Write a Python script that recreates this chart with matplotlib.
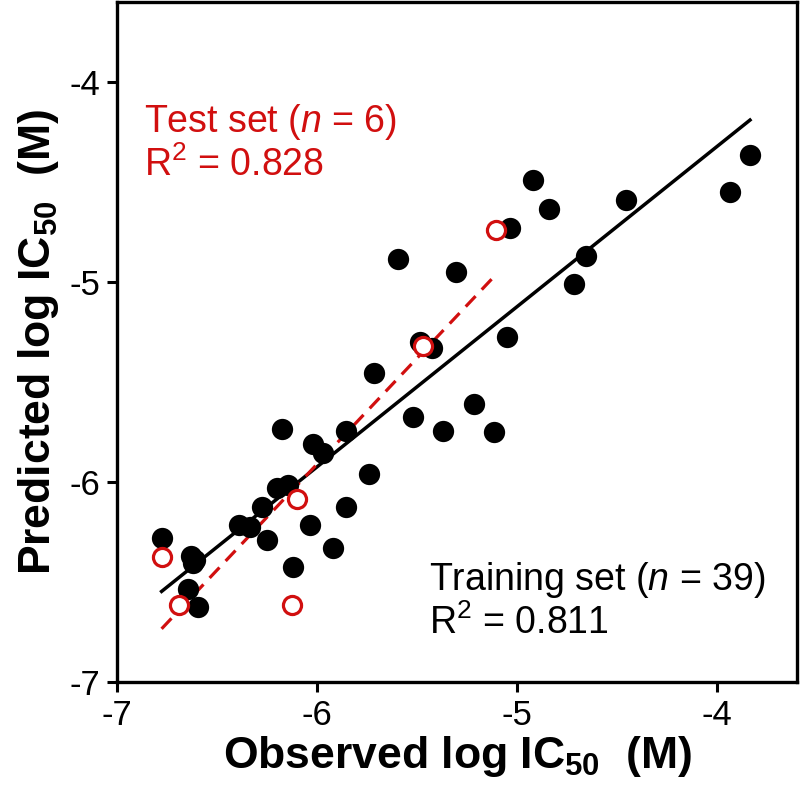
import numpy as np
import matplotlib.pyplot as plt

plt.rcParams['font.family'] = 'Liberation Sans'
plt.rcParams['mathtext.fontset'] = 'custom'
plt.rcParams['mathtext.rm'] = 'Liberation Sans'
plt.rcParams['mathtext.it'] = 'Liberation Sans:italic'
plt.rcParams['mathtext.bf'] = 'Liberation Sans:bold'

# training set (observed, predicted)
train_obs = [-6.177, -6.019, -5.969, -5.857, -5.519, -6.202, -6.147, -5.739,
             -6.277, -6.389, -6.335, -6.035, -5.855, -6.249, -5.919, -6.777,
             -6.630, -6.622, -6.119, -6.647, -6.597, -5.597, -5.307, -5.035,
             -5.485, -5.427, -5.052, -5.715, -5.215, -5.369, -5.115, -4.919,
             -4.839, -4.457, -3.835, -3.935, -4.655, -4.715, -6.610]
train_pred = [-5.737, -5.812, -5.857, -5.745, -5.674, -6.029, -6.015, -5.960,
              -6.127, -6.215, -6.224, -6.215, -6.124, -6.290, -6.329, -6.282,
              -6.370, -6.407, -6.424, -6.537, -6.627, -4.885, -4.952, -4.732,
              -5.299, -5.332, -5.274, -5.454, -5.610, -5.745, -5.752, -4.490,
              -4.635, -4.590, -4.365, -4.552, -4.869, -5.010, -6.390]

# test set
test_obs = [-6.777, -6.689, -6.127, -6.102, -5.107, -5.469]
test_pred = [-6.377, -6.615, -6.614, -6.087, -4.740, -5.319]

red = '#d10f0f'

fig = plt.figure(figsize=(8, 8), dpi=100)
ax = fig.add_axes([0.14625, 0.1475, 0.85, 0.85])

# regression lines
x1 = np.array([min(train_obs), max(train_obs)])
p1 = np.polyfit(train_obs, train_pred, 1)
ax.plot(x1, np.polyval(p1, x1), color='black', lw=2.5, zorder=1)

x2 = np.array([min(test_obs), max(test_obs)])
p2 = np.polyfit(test_obs, test_pred, 1)
ax.plot(x2, np.polyval(p2, x2), color=red, lw=2.3, ls=(0, (4.5, 2.8)), zorder=1)

ax.scatter(train_obs, train_pred, s=235, color='black', linewidths=0, zorder=2)
ax.scatter(test_obs, test_pred, s=170, facecolor='white', edgecolor=red,
           linewidths=2.3, zorder=3)

ax.set_xlim(-7, -3.6)
ax.set_ylim(-7, -3.6)
ax.set_xticks([-7, -6, -5, -4])
ax.set_yticks([-7, -6, -5, -4])
ax.set_xticklabels(['-7', '-6', '-5', '-4'])
ax.set_yticklabels(['-7', '-6', '-5', '-4'])
ax.tick_params(direction='out', length=7, width=2.2, labelsize=25, pad=5)
for s in ax.spines.values():
    s.set_linewidth(2.4)

ax.set_xlabel(r'Observed log IC$_{\mathbf{50}}$  (M)', fontsize=32,
              fontweight='bold', labelpad=2)
ax.set_ylabel(r'Predicted log IC$_{\mathbf{50}}$  (M)', fontsize=32,
              fontweight='bold', labelpad=6)

ax.text(-6.865, -4.249, r'Test set ($n$ = 6)', color=red, fontsize=27,
        va='baseline')
ax.text(-6.865, -4.47, r'R$^2$ = 0.828', color=red, fontsize=27,
        va='baseline')
ax.text(-5.44, -6.54, r'Training set ($n$ = 39)', color='black', fontsize=27,
        va='baseline')
ax.text(-5.44, -6.76, r'R$^2$ = 0.811', color='black', fontsize=27,
        va='baseline')

fig.savefig('out.png', dpi=100)
